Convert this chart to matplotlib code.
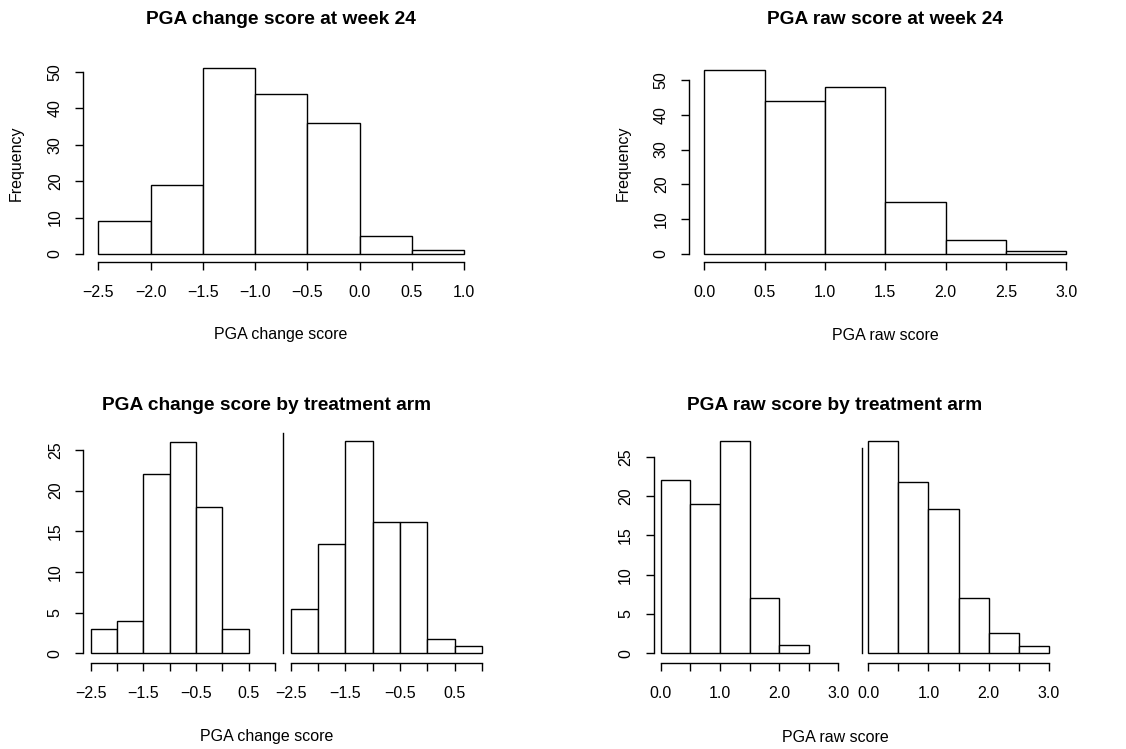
"""Histograms of PGA change and raw scores at week 24, overall and by arm."""

import matplotlib
matplotlib.use("Agg")
import matplotlib.pyplot as plt
import numpy as np

plt.rcParams["font.family"] = ["Liberation Sans", "DejaVu Sans"]

W, H = 1126, 749

# Bin edges
change_edges = [-2.5, -2.0, -1.5, -1.0, -0.5, 0.0, 0.5, 1.0]
raw_edges = [0.0, 0.5, 1.0, 1.5, 2.0, 2.5, 3.0]

# Overall counts at week 24
change_counts = [9, 19, 51, 44, 36, 5, 1]
raw_counts = [53, 44, 48, 15, 4, 1]

# By treatment arm (second arm rescaled to the first arm's peak)
change_arm1 = [3, 4, 22, 26, 18, 3]
change_arm2 = [5.4, 13.5, 26.1, 16.2, 16.2, 1.8, 0.9]
raw_arm1 = [22, 19, 27, 7, 1]
raw_arm2 = [27.0, 21.8, 18.3, 7.0, 2.6, 0.9]

change_ticks = [-2.5, -2.0, -1.5, -1.0, -0.5, 0.0, 0.5, 1.0]
change_ticklabels = ["\u22122.5", "\u22122.0", "\u22121.5", "\u22121.0", "\u22120.5", "0.0", "0.5", "1.0"]
raw_ticks = [0.0, 0.5, 1.0, 1.5, 2.0, 2.5, 3.0]
raw_ticklabels = ["0.0", "0.5", "1.0", "1.5", "2.0", "2.5", "3.0"]

FS = 11.5
TITLE_FS = 13.8
PX = 72 / 100  # points per pixel


def panel(fig, xv, xp, yv, yp, ylim):
    """Axes whose data coords map xv->xp and yv->yp (pixels from top-left)."""
    sx = (xp[1] - xp[0]) / (xv[1] - xv[0])
    sy = (yp[1] - yp[0]) / (yv[1] - yv[0])
    left = xp[0]
    right = xp[1]
    bottom = yp[0] + (ylim[0] - yv[0]) * sy
    top = yp[0] + (ylim[1] - yv[0]) * sy
    ax = fig.add_axes([left / W, 1 - bottom / H, (right - left) / W, (bottom - top) / H])
    ax.set_xlim(xv)
    ax.set_ylim(ylim)
    ax.patch.set_alpha(0)
    for s in ("top", "right"):
        ax.spines[s].set_visible(False)
    for s in ("left", "bottom"):
        ax.spines[s].set_linewidth(1.0)
        ax.spines[s].set_color("black")
    ax.tick_params(direction="out", length=8 * PX, width=1.0, labelsize=FS, colors="black")
    return ax


def hist(ax, edges, counts):
    edges = np.asarray(edges[: len(counts) + 1])
    ax.bar(edges[:-1], counts, width=np.diff(edges), align="edge",
           facecolor="white", edgecolor="black", linewidth=1.0, clip_on=False)


def xaxis(ax, ticks, labels, outward_px, bounds, pad):
    ax.spines["bottom"].set_position(("outward", outward_px * PX))
    ax.spines["bottom"].set_bounds(*bounds)
    ax.set_xticks(ticks)
    ax.set_xticklabels(labels)
    ax.tick_params(axis="x", pad=pad)


def yaxis(ax, ticks, outward_px, bounds):
    ax.spines["left"].set_position(("outward", outward_px * PX))
    ax.spines["left"].set_bounds(*bounds)
    ax.set_yticks(ticks)
    ax.set_yticklabels([str(t) for t in ticks], rotation=90, va="center")
    ax.tick_params(axis="y", pad=9)


fig = plt.figure(figsize=(W / 100, H / 100), dpi=100)
fig.patch.set_facecolor("white")

# Top left: change score
ax = panel(fig, (-2.5, 1.0), (98.3, 464.0), (0, 50), (254, 72), (0, 52))
hist(ax, change_edges, change_counts)
xaxis(ax, change_ticks, change_ticklabels, 7.7, (-2.5, 1.0), 11)
yaxis(ax, [0, 10, 20, 30, 40, 50], 15, (0, 50))

# Top right: raw score
ax = panel(fig, (0, 3), (704.3, 1066.3), (0, 50), (254, 80), (0, 54))
hist(ax, raw_edges, raw_counts)
xaxis(ax, raw_ticks, raw_ticklabels, 7.7, (0, 3), 11)
yaxis(ax, [0, 10, 20, 30, 40, 50], 15, (0, 50))

# Bottom left: change score by arm
ax = panel(fig, (-2.5, 1.0), (90.7, 275.0), (0, 25), (653.3, 450), (0, 27))
hist(ax, change_edges, change_arm1)
xaxis(ax, change_ticks, [l if i % 2 == 0 else "" for i, l in enumerate(change_ticklabels)],
      9.4, (-2.5, 1.0), 11)
yaxis(ax, [0, 5, 10, 15, 20, 25], 7.4, (0, 25))

ax = panel(fig, (-2.5, 1.0), (290.7, 482.0), (0, 25), (653.3, 450), (0, 27.1))
hist(ax, change_edges, change_arm2)
xaxis(ax, change_ticks, [l if i % 2 == 0 else "" for i, l in enumerate(change_ticklabels)],
      9.4, (-2.5, 1.0), 11)
ax.spines["left"].set_position(("outward", 8 * PX))
ax.set_yticks([])

# Bottom right: raw score by arm
raw_sparse = [l if i % 2 == 0 else "" for i, l in enumerate(raw_ticklabels)]
ax = panel(fig, (0, 3), (660.7, 838.3), (0, 25), (653.3, 456.7), (0, 28))
hist(ax, raw_edges, raw_arm1)
xaxis(ax, raw_ticks, raw_sparse, 9.4, (0, 3), 11)
yaxis(ax, [0, 5, 10, 15, 20, 25], 7, (0, 25))

ax = panel(fig, (0, 3), (868.3, 1048.7), (0, 25), (653.3, 456.7), (0, 26.1))
hist(ax, raw_edges, raw_arm2)
xaxis(ax, raw_ticks, raw_sparse, 9.4, (0, 3), 11)
ax.spines["left"].set_position(("outward", 6.6 * PX))
ax.set_yticks([])

# Titles and axis labels
def ftext(x, y, s, **kw):
    fig.text(x / W, 1 - y / H, s, ha="center", va="center", **kw)

ftext(281, 20, "PGA change score at week 24", fontsize=TITLE_FS, fontweight="bold")
ftext(885, 20, "PGA raw score at week 24", fontsize=TITLE_FS, fontweight="bold")
ftext(266.7, 405, "PGA change score by treatment arm", fontsize=TITLE_FS, fontweight="bold")
ftext(835, 405, "PGA raw score by treatment arm", fontsize=TITLE_FS, fontweight="bold")

ftext(281, 335, "PGA change score", fontsize=FS)
ftext(885, 335, "PGA raw score", fontsize=FS)
ftext(266.7, 737, "PGA change score", fontsize=FS)
ftext(835, 737, "PGA raw score", fontsize=FS)

ftext(16.7, 163, "Frequency", fontsize=FS, rotation=90)
ftext(623, 163, "Frequency", fontsize=FS, rotation=90)

fig.savefig("out.png", dpi=100, facecolor="white")
